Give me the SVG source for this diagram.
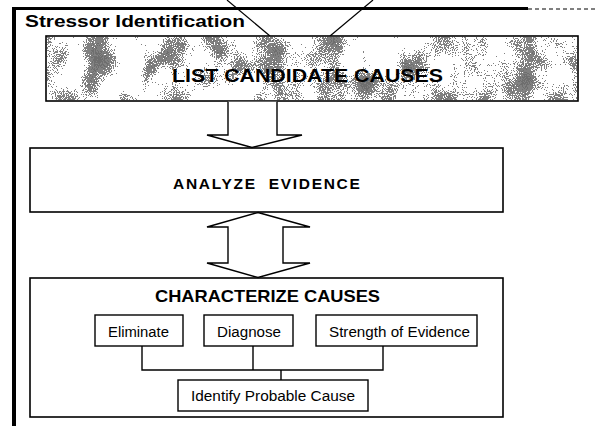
<svg xmlns="http://www.w3.org/2000/svg" width="599" height="426" viewBox="0 0 599 426">
<defs>
<filter id="stip" x="0" y="0" width="100%" height="100%" color-interpolation-filters="sRGB">
<feTurbulence type="fractalNoise" baseFrequency="0.035 0.028" numOctaves="2" seed="4" result="blot0"/>
<feColorMatrix in="blot0" type="matrix" values="1 0 0 0 0  1 0 0 0 0  1 0 0 0 0  0 0 0 0 1" result="blot"/>
<feTurbulence type="fractalNoise" baseFrequency="0.9" numOctaves="1" seed="9" result="fine0"/>
<feColorMatrix in="fine0" type="matrix" values="1 0 0 0 0  1 0 0 0 0  1 0 0 0 0  0 0 0 0 1" result="fine"/>
<feComposite in="blot" in2="fine" operator="arithmetic" k1="0" k2="1.4" k3="1" k4="-0.8" result="sum"/>
<feColorMatrix in="sum" type="matrix" values="0 0 0 0 0  0 0 0 0 0  0 0 0 0 0  1 0 0 0 0" result="a"/>
<feComponentTransfer in="a" result="t"><feFuncA type="discrete" tableValues="0 0 0.7 0.8"/></feComponentTransfer>
<feFlood flood-color="#4a4a4a"/>
<feComposite in2="t" operator="in"/>
</filter>
</defs>
<style>
.box{fill:#fff;stroke:#000;stroke-width:1.6}
.sub{fill:#fff;stroke:#000;stroke-width:1.4}
.arr{fill:#fff;stroke:#000;stroke-width:1.4;stroke-linejoin:miter}
.ln{fill:none;stroke:#000;stroke-width:1.4}
.b{font-family:"Liberation Sans",Arial,sans-serif;font-weight:bold;fill:#000}
.r{font-family:"Liberation Sans",Arial,sans-serif;font-size:14px;fill:#000}
</style>
<rect width="599" height="426" fill="#fff"/>
<g id="frame">
<line x1="12" y1="8.5" x2="528" y2="8.5" stroke="#000" stroke-width="3"/>
<line x1="528" y1="9" x2="596" y2="9" stroke="#000" stroke-width="1" stroke-dasharray="4 3"/>
<line x1="14" y1="7" x2="14" y2="426" stroke="#000" stroke-width="4"/>
<line x1="227" y1="0" x2="270" y2="36" stroke="#000" stroke-width="1.2"/>
<line x1="373" y1="0" x2="330" y2="36" stroke="#000" stroke-width="1.2"/>
<text class="b" x="25" y="27" font-size="17" textLength="220" lengthAdjust="spacingAndGlyphs">Stressor Identification</text>
</g>
<g id="list">
<rect class="box" x="46" y="36" width="532" height="65"/>
<rect x="47" y="37" width="530" height="63" filter="url(#stip)"/>
<text class="b" x="172" y="82" font-size="18" textLength="271" lengthAdjust="spacingAndGlyphs">LIST CANDIDATE CAUSES</text>
</g>
<g id="analyze">
<rect class="box" x="30" y="148" width="473" height="64"/>
<text class="b" x="173" y="189" font-size="15.5" letter-spacing="1.7" xml:space="preserve">ANALYZE  EVIDENCE</text>
</g>
<g id="characterize">
<rect class="box" x="30" y="278" width="473" height="139"/>
<text class="b" x="155" y="302" font-size="16.5" textLength="225" lengthAdjust="spacingAndGlyphs">CHARACTERIZE CAUSES</text>
</g>
<g id="eliminate">
<rect class="sub" x="95" y="315" width="88" height="31"/>
<text class="r" x="108" y="337" textLength="61" lengthAdjust="spacingAndGlyphs">Eliminate</text>
</g>
<g id="diagnose">
<rect class="sub" x="204" y="315" width="89" height="31"/>
<text class="r" x="217" y="337" textLength="64" lengthAdjust="spacingAndGlyphs">Diagnose</text>
</g>
<g id="strength">
<rect class="sub" x="316" y="315" width="161" height="31"/>
<text class="r" x="329" y="337" textLength="141" lengthAdjust="spacingAndGlyphs">Strength of Evidence</text>
</g>
<g id="identify">
<rect class="sub" x="178" y="380" width="190" height="31"/>
<text class="r" x="191" y="401" textLength="164" lengthAdjust="spacingAndGlyphs">Identify Probable Cause</text>
</g>
<g id="connectors">
<path class="arr" d="M228,101.8 V135 H207 L252,147.5 L302,135 H277 V101.8"/>
<path class="arr" d="M258,212.5 L310,227 H283 V263 H310 L258,277.5 L207,263 H228 V227 H207 Z"/>
<path class="ln" d="M142,346 V370 M253,346 V370 M383,346 V370 M141.3,370 H383.7 M281,370 V380"/>
</g>
</svg>
